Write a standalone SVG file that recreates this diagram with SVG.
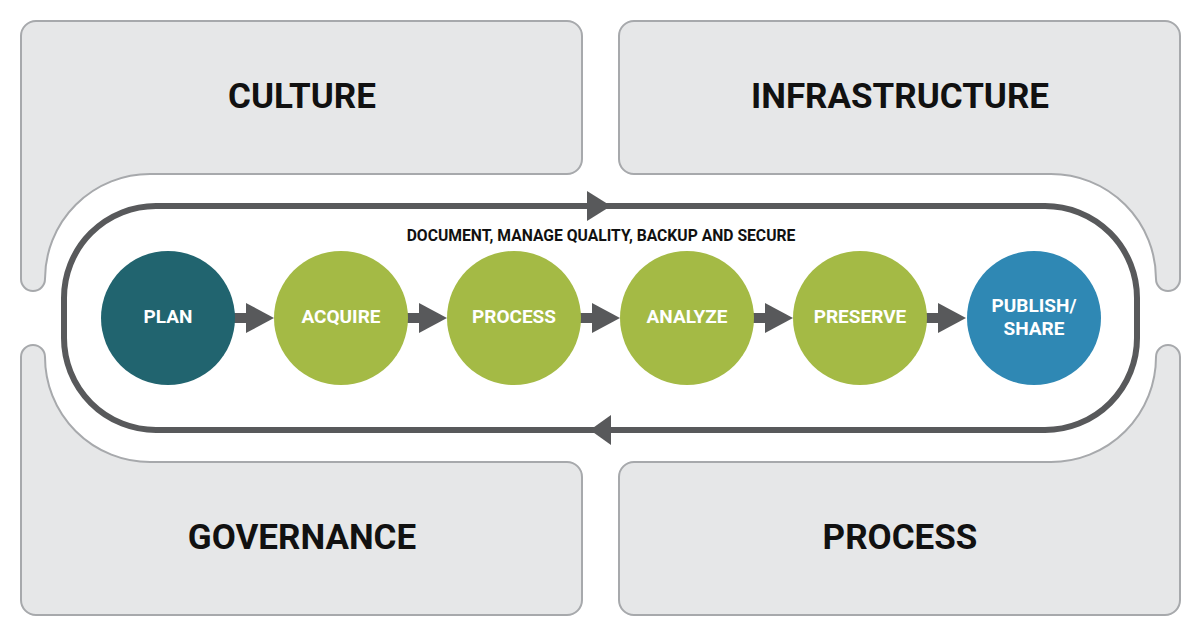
<svg xmlns="http://www.w3.org/2000/svg" width="1202" height="636" viewBox="0 0 1202 636">
<style>
.panel{fill:#e6e7e8;stroke:#a7a9ac;stroke-width:2}
.ptxt{font-family:Roboto,"Liberation Sans",sans-serif;font-weight:700;font-size:35px;fill:#111;text-anchor:middle}
.ctxt{font-family:Roboto,"Liberation Sans",sans-serif;font-weight:700;font-size:19px;fill:#fff;text-anchor:middle}
.note{font-family:Roboto,"Liberation Sans",sans-serif;font-weight:700;font-size:15.7px;fill:#111;text-anchor:middle}
.track{fill:none;stroke:#58595b;stroke-width:6}
.arr{fill:#58595b}
.plan{fill:#21646f}
.green{fill:#a4ba45}
.blue{fill:#2f88b4}
</style>
<rect width="1202" height="636" fill="#fff"/>
<g id="culture">
<path class="panel" d="M36,21 H567 A15 15 0 0 1 582,36 V159 A15 15 0 0 1 567,174 H150 A105 105 0 0 0 45,279 A12 12 0 0 1 21,279 V36 A15 15 0 0 1 36,21 Z"/>
<text class="ptxt" x="302" y="108">CULTURE</text>
</g>
<g id="infrastructure">
<path class="panel" d="M634,21 H1165 A15 15 0 0 1 1180,36 V279 A12 12 0 0 1 1156,279 A105 105 0 0 0 1051,174 H634 A15 15 0 0 1 619,159 V36 A15 15 0 0 1 634,21 Z"/>
<text class="ptxt" x="900" y="108">INFRASTRUCTURE</text>
</g>
<g id="governance">
<path class="panel" d="M36,615 H567 A15 15 0 0 0 582,600 V477 A15 15 0 0 0 567,462 H150 A105 105 0 0 1 45,357 A12 12 0 0 0 21,357 V600 A15 15 0 0 0 36,615 Z"/>
<text class="ptxt" x="302" y="549">GOVERNANCE</text>
</g>
<g id="process-panel">
<path class="panel" d="M634,615 H1165 A15 15 0 0 0 1180,600 V357 A12 12 0 0 0 1156,357 A105 105 0 0 1 1051,462 H634 A15 15 0 0 0 619,477 V600 A15 15 0 0 0 634,615 Z"/>
<text class="ptxt" x="900" y="549">PROCESS</text>
</g>
<g id="connectors">
<rect class="track" x="64" y="206" width="1073" height="224" rx="92" ry="92"/>
<polygon class="arr" points="587,191 611,206 587,221"/>
<polygon class="arr" points="590,430 611,415 611,445"/>
<g class="arr">
<rect x="228" y="313" width="20" height="10"/><polygon points="246,303 274,318 246,333"/>
<rect x="401" y="313" width="20" height="10"/><polygon points="419,303 447,318 419,333"/>
<rect x="574" y="313" width="20" height="10"/><polygon points="592,303 620,318 592,333"/>
<rect x="747" y="313" width="20" height="10"/><polygon points="765,303 793,318 765,333"/>
<rect x="920" y="313" width="20" height="10"/><polygon points="938,303 966,318 938,333"/>
</g>
</g>
<text class="note" x="601" y="241">DOCUMENT, MANAGE QUALITY, BACKUP AND SECURE</text>
<g id="plan"><circle class="plan" cx="168" cy="318" r="67"/><text class="ctxt" x="168" y="323">PLAN</text></g>
<g id="acquire"><circle class="green" cx="341" cy="318" r="67"/><text class="ctxt" x="341" y="323">ACQUIRE</text></g>
<g id="process"><circle class="green" cx="514" cy="318" r="67"/><text class="ctxt" x="514" y="323">PROCESS</text></g>
<g id="analyze"><circle class="green" cx="687" cy="318" r="67"/><text class="ctxt" x="687" y="323">ANALYZE</text></g>
<g id="preserve"><circle class="green" cx="860" cy="318" r="67"/><text class="ctxt" x="860" y="323">PRESERVE</text></g>
<g id="publish"><circle class="blue" cx="1034" cy="318" r="67"/><text class="ctxt" x="1034" y="312">PUBLISH/</text><text class="ctxt" x="1034" y="335">SHARE</text></g>
</svg>
